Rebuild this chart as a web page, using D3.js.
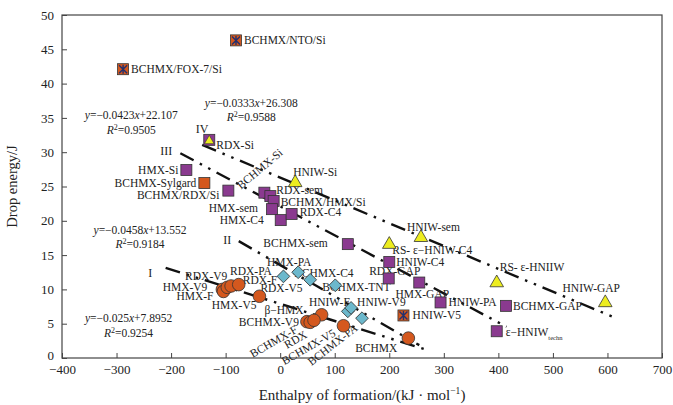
<!DOCTYPE html>
<html><head><meta charset="utf-8">
<script src="https://cdn.jsdelivr.net/npm/d3@7"></script>
<style>
body{margin:0;background:#fff}
svg{display:block}
text{font-family:"Liberation Serif","Times New Roman",serif;fill:#222}
</style>
</head><body>
<svg id="chart" width="673" height="405"></svg>
<script>
// ---------- data ----------
const xTicks = [-400,-300,-200,-100,0,100,200,300,400,500,600,700];
const yTicks = [0,5,10,15,20,25,30,35,40,45,50];

const purpleSquares = [
  ["HMX-Si",-172,27.4],["BCHMX/RDX/Si",-95,24.4],["BCHMX-Si",-29,24.1],
  ["RDX-sem",-18,23.6],["BCHMX/HMX/Si",-12,22.9],["HMX-sem",-15,21.7],
  ["HMX-C4",1,20.1],["RDX-C4",21,21.0],["BCHMX-sem",124,16.6],
  ["HNIW-C4",200,14.0],["RDX-GAP",199,11.6],["HMX-GAP",255,11.0],
  ["HNIW-PA",294,8.1],["BCHMX-GAP",414,7.6],["ε−HNIW|techn",397,3.9]
];
const squareTriangle = [["RDX-Si",-130,31.8]];
const orangeSquares = [["BCHMX-Sylgard",-139,25.5]];
const crossedSquares = [["BCHMX/NTO/Si",-81,46.3],["BCHMX/FOX-7/Si",-288,42.1],["HNIW-V5",226,6.2]];
const yellowTriangles = [["HNIW-Si",27.5,25.7],["HNIW-sem",258,17.7],["RS- ε−HNIW-C4",200,16.7],
  ["RS- ε-HNIIW",397,11.1],["HNIW-GAP",596,8.2]];
const cyanDiamonds = [["RDX-V5",6,11.9],["HMX-PA",33,12.5],["BCHMX-C4",55,11.4],["BCHMX-TNT",101,10.6],
  ["HNIW-F",124,6.8],["HNIW-V9",130,7.3],["BCHMX-PA",150,5.8]];
const orangeCircles = [["HMX-V9",-106,10.0],["HMX-F",-104,9.7],["RDX-V9",-97,10.3],["RDX-PA",-90,10.5],
  ["RDX-F",-76,10.7],["HMX-V5",-38,9.0],["β−HMX",76,6.3],["BCHMX-V9",49,5.3],["BCHMX-F",55,5.2],
  ["RDX",62,5.5],["BCHMX-V5",116,4.7],["BCHMX",235,2.9]];

const trendNames = ["I","II","III","IV"];
const trendSlope = [-0.025,-0.0458,-0.0423,-0.0333];
const trendIntercept = [7.8952,13.552,22.107,26.308];
const trendR2 = ["0.9254","0.9184","0.9505","0.9588"];
const trendXStart = [-210,-76,-183,-143];
const trendXEnd = [265,255,415,611];
// annotation anchors in data units
const numeralAt = [[-238,12.4],[-97,17.2],[-209,30.2],[-143,33.4]];
const eqAt = [[-278,5.8],[-257,18.7],[-273,35.4],[-53,37.2]];

// ---------- label layout (pixel offsets: dx, dy, anchor, rotation) ----------
const labelLayout = {
 "HMX-Si":[-8,0,"end"],"BCHMX/RDX/Si":[-9,4,"end"],"BCHMX-Si":[-26,-6,"start",-40],
 "RDX-sem":[6,-6,"start"],"BCHMX/HMX/Si":[7,1,"start"],"HMX-sem":[-14,-1,"end"],
 "HMX-C4":[-17,0,"end"],"RDX-C4":[8,-2,"start"],"BCHMX-sem":[-20,-1,"end"],
 "HNIW-C4":[7,0,"start"],"RDX-GAP":[6,-7,"middle"],"HMX-GAP":[3,11,"middle"],
 "HNIW-PA":[8,0,"start"],"BCHMX-GAP":[7,0,"start"],"ε−HNIW|techn":[9,1,"start"],
 "RDX-Si":[7,5,"start"],"BCHMX-Sylgard":[-8,0,"end"],
 "BCHMX/NTO/Si":[8,0,"start"],"BCHMX/FOX-7/Si":[8,0,"start"],"HNIW-V5":[9,0,"start"],
 "HNIW-Si":[-2,-10,"start"],"HNIW-sem":[-14,-10,"start"],"RS- ε−HNIW-C4":[3,7,"start"],
 "RS- ε-HNIIW":[3,-15,"start"],"HNIW-GAP":[-14,-14,"middle"],
 "RDX-V5":[-2,12,"middle"],"HMX-PA":[-9,-10,"middle"],"BCHMX-C4":[-16,-7,"start"],
 "BCHMX-TNT":[-13,2,"start"],"HNIW-F":[2,-9,"end"],"HNIW-V9":[6,-6,"start"],
 "BCHMX-PA":[-6,8,"end",-38],
 "HMX-V9":[-15,-2,"end"],"HMX-F":[-10,4.5,"end"],"RDX-V9":[0,-11,"end"],
 "RDX-PA":[-1,-15,"start"],"RDX-F":[4,-5,"start"],"HMX-V5":[-3,9,"end"],
 "β−HMX":[-18,-5,"end"],"BCHMX-V9":[-8,0,"end"],"BCHMX-F":[-14,6,"end",-30],
 "RDX":[-8,13,"end",-30],"BCHMX-V5":[-9,6,"end",-30],"BCHMX":[-11,10,"end"]
};

// ---------- scales ----------
const svg = d3.select("#chart");
const x = d3.scaleLinear().domain([-400,700]).range([62,662]);
const y = d3.scaleLinear().domain([0,50]).range([358,15]);

const COL = {purple:"#8a3a8f", orange:"#d4581e", cyan:"#6cb8cc", yellow:"#eded1f", stroke:"#333", navy:"#23306e"};

// frame
svg.append("rect").attr("x",x(-400)).attr("y",y(50)).attr("width",x(700)-x(-400)).attr("height",y(0)-y(50))
  .attr("fill","none").attr("stroke","#444").attr("stroke-width",1.2);

// axes
const gx = svg.append("g").attr("transform",`translate(0,${y(0)})`)
  .call(d3.axisBottom(x).tickValues(xTicks).tickSizeInner(-5).tickSizeOuter(0).tickPadding(7));
const gy = svg.append("g").attr("transform",`translate(${x(-400)},0)`)
  .call(d3.axisLeft(y).tickValues(yTicks).tickSizeInner(-5).tickSizeOuter(0).tickPadding(8));
[gx,gy].forEach(g=>{
  g.select(".domain").remove();
  g.selectAll("line").attr("stroke","#444");
  g.selectAll("text").attr("font-family","Liberation Serif").attr("font-size",13).attr("fill","#222");
});
gy.selectAll(".tick text").filter(d=>d===0).attr("dy","0.1em");

// axis titles
const xt = svg.append("text").attr("x",362).attr("y",400).attr("text-anchor","middle").attr("font-size",15);
xt.append("tspan").text("Enthalpy of formation/(kJ · mol");
xt.append("tspan").attr("font-size",9.5).attr("dy",-6).text("−1");
xt.append("tspan").attr("dy",6).text(")");
svg.append("text").attr("transform",`translate(17,${(y(0)+y(50))/2}) rotate(-90)`)
  .attr("text-anchor","middle").attr("font-size",14.5).text("Drop energy/J");

// trend lines
const lineG = svg.append("g");
trendNames.forEach((n,i)=>{
  const pts = [trendXStart[i],trendXEnd[i]].map(v=>[v, trendSlope[i]*v+trendIntercept[i]]);
  lineG.append("path").attr("d", d3.line().x(d=>x(d[0])).y(d=>y(d[1]))(pts))
    .attr("stroke","#111").attr("stroke-width",2.4).attr("fill","none")
    .attr("stroke-dasharray","15,7,2.5,7,2.5,7");
  svg.append("text").attr("x",x(numeralAt[i][0])).attr("y",y(numeralAt[i][1]))
    .attr("dy","0.35em").attr("text-anchor","middle").attr("font-size",12).text(n);
  const t = svg.append("text").attr("x",x(eqAt[i][0])).attr("y",y(eqAt[i][1])).attr("dy","0.35em")
    .attr("text-anchor","middle").attr("font-size",11.5);
  t.append("tspan").attr("font-style","italic").text("y");
  t.append("tspan").text("=" + (trendSlope[i]<0?"−":"") + Math.abs(trendSlope[i]));
  t.append("tspan").attr("font-style","italic").text("x");
  t.append("tspan").text("+" + trendIntercept[i]);
  const r = svg.append("text").attr("x",x(eqAt[i][0])).attr("y",y(eqAt[i][1])+14.5).attr("dy","0.35em")
    .attr("text-anchor","middle").attr("font-size",11.5);
  r.append("tspan").attr("font-style","italic").text("R");
  r.append("tspan").attr("font-size",8).attr("dy",-4).text("2");
  r.append("tspan").attr("dy",4).text("=" + trendR2[i]);
});

// labels
const labelG = svg.append("g");
function addLabels(arr){
  arr.forEach(([name,vx,vy])=>{
    const L = labelLayout[name] || [8,0,"start"];
    const px = x(vx)+L[0], py = y(vy)+L[1];
    const t = labelG.append("text").attr("transform",`translate(${px},${py}) rotate(${L[3]||0})`)
      .attr("dy","0.35em").attr("text-anchor",L[2]).attr("font-size",11.5);
    if(name.includes("|")){
      const [main,sub] = name.split("|");
      t.append("tspan").text(main);
      t.append("tspan").attr("font-size",6.5).attr("dy",4).text(sub);
    } else t.text(name);
  });
}
[purpleSquares,squareTriangle,orangeSquares,crossedSquares,yellowTriangles,cyanDiamonds,orangeCircles].forEach(addLabels);

// markers
const mG = svg.append("g");
const S = 11;
function squares(arr, fill){
  mG.selectAll(null).data(arr).enter().append("rect")
    .attr("x",d=>x(d[1])-S/2).attr("y",d=>y(d[2])-S/2).attr("width",S).attr("height",S)
    .attr("fill",fill).attr("stroke",COL.stroke).attr("stroke-width",0.8);
}
squares(purpleSquares, COL.purple);
squares(orangeSquares, COL.orange);
squares(squareTriangle, COL.purple);
mG.selectAll(null).data(squareTriangle).enter().append("path")
  .attr("transform",d=>`translate(${x(d[1])},${y(d[2])+1})`)
  .attr("d",d3.symbol(d3.symbolTriangle,40)).attr("fill",COL.yellow).attr("stroke",COL.stroke).attr("stroke-width",0.6);
squares(crossedSquares, COL.orange);
crossedSquares.forEach(d=>{
  const cx=x(d[1]), cy=y(d[2]), k=4;
  mG.append("path").attr("d",`M${cx-k},${cy-k}L${cx+k},${cy+k}M${cx+k},${cy-k}L${cx-k},${cy+k}M${cx},${cy-k-0.5}L${cx},${cy+k+0.5}`)
    .attr("stroke",COL.navy).attr("stroke-width",1.4);
});
mG.selectAll(null).data(yellowTriangles).enter().append("path")
  .attr("transform",d=>`translate(${x(d[1])},${y(d[2])+1})`)
  .attr("d",d3.symbol(d3.symbolTriangle,80)).attr("fill",COL.yellow).attr("stroke",COL.stroke).attr("stroke-width",0.8);
mG.selectAll(null).data(cyanDiamonds).enter().append("rect")
  .attr("transform",d=>`translate(${x(d[1])},${y(d[2])}) rotate(45)`)
  .attr("x",-4.5).attr("y",-4.5).attr("width",9).attr("height",9)
  .attr("fill",COL.cyan).attr("stroke",COL.stroke).attr("stroke-width",0.8);
mG.selectAll(null).data(orangeCircles).enter().append("circle")
  .attr("cx",d=>x(d[1])).attr("cy",d=>y(d[2])).attr("r",6.3)
  .attr("fill",COL.orange).attr("stroke",COL.stroke).attr("stroke-width",0.8);
</script>
</body></html>
